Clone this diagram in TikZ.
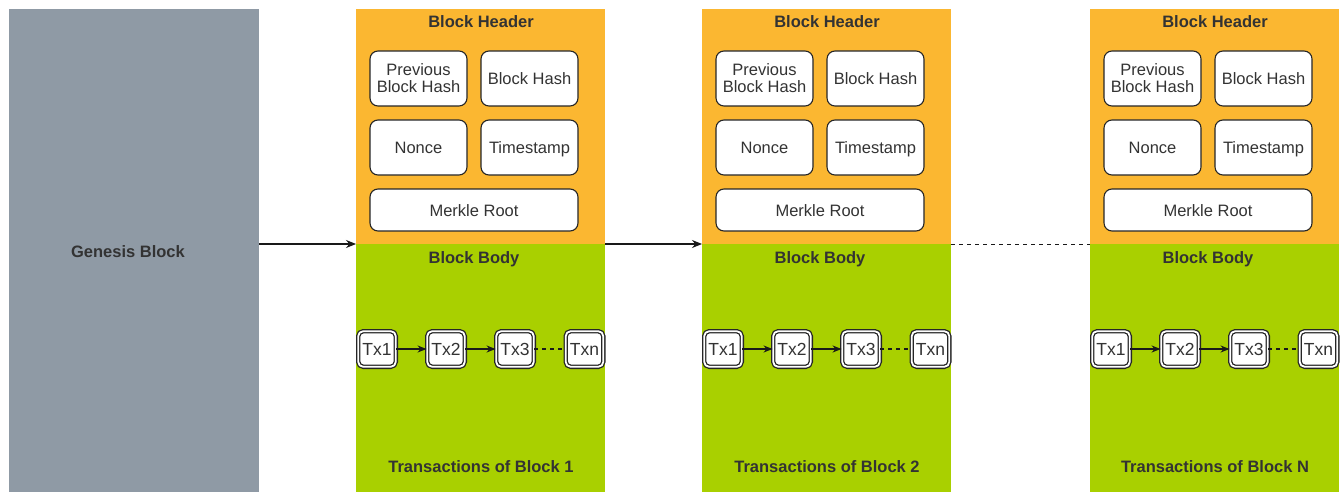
\documentclass[tikz,border=0pt]{standalone}
\usepackage{fontspec}
\setmainfont{Liberation Sans}
\usetikzlibrary{arrows.meta}
\definecolor{gensis}{HTML}{8F9AA5}
\definecolor{kopf}{HTML}{FBB731}
\definecolor{rumpf}{HTML}{A9D000}
\definecolor{schrift}{HTML}{333333}
\tikzset{
  blk/.style={inner sep=0pt,outer sep=0pt,anchor=north west},
  titel/.style={text=schrift,font=\fontsize{16.5}{19}\selectfont\bfseries,inner sep=0pt},
  feld/.style={draw=black!85,fill=white,rounded corners=8pt,line width=1.1pt,text=schrift,
    font=\fontsize{16.5}{19}\selectfont,align=center,inner sep=0pt},
  einzeln/.style={feld,text height=12pt,text depth=0pt},
  txbox/.style={draw=black!85,double=white,double distance=1.8pt,fill=white,rounded corners=5pt,
    line width=1.3pt,minimum width=37.6pt,minimum height=35.6pt,text=schrift,
    font=\fontsize{17.5}{20}\selectfont,inner sep=0pt},
  pfeil/.style={-{Stealth[length=10pt,width=8pt]},black!90,line width=1.2pt},
  txpfeil/.style={-{Stealth[length=9pt,width=7pt]},black!90,line width=1.2pt},
  luecke/.style={black!90,line width=1.1pt,dash pattern=on 4pt off 4pt},
}
\begin{document}
\begin{tikzpicture}[x=1pt,y=-1pt]
  \useasboundingbox (0,0) rectangle (1341,492);
  \node[blk,fill=gensis,minimum width=250pt,minimum height=483pt] (gen) at (9,9) {};
  \node[titel] (gent) at (128,252) {Genesis Block};
  \foreach \dx/\n/\lab in {356/1/1,702/2/2,1090/3/N}{
    \node[blk,fill=kopf,minimum width=249pt,minimum height=235pt] (h\n) at (\dx,9) {};
    \node[blk,fill=rumpf,minimum width=249pt,minimum height=250pt] (b\n) at (\dx,244) {};
    \node[titel] (ht\n) at (\dx+125,22) {Block Header};
    \node[feld,minimum width=97pt,minimum height=55pt] (p\n) at (\dx+62.5,78.5) {Previous\\[-2pt]Block Hash};
    \node[einzeln,minimum width=97pt,minimum height=55pt] (bh\n) at (\dx+173.5,78.5) {Block Hash};
    \node[einzeln,minimum width=97pt,minimum height=55pt] (no\n) at (\dx+62.5,147.5) {Nonce};
    \node[einzeln,minimum width=97pt,minimum height=55pt] (ts\n) at (\dx+173.5,147.5) {Timestamp};
    \node[einzeln,minimum width=208pt,minimum height=42pt] (mr\n) at (\dx+118,210) {Merkle Root};
    \node[titel] (bt\n) at (\dx+118,259) {Block Body};
    \node[txbox] (ta\n) at (\dx+21,349) {Tx1};
    \node[txbox] (tb\n) at (\dx+90,349) {Tx2};
    \node[txbox] (tc\n) at (\dx+159,349) {Tx3};
    \node[txbox] (tn\n) at (\dx+228.5,349) {Txn};
    \draw[txpfeil] (ta\n) -- (tb\n);
    \draw[txpfeil] (tb\n) -- (tc\n);
    \draw[luecke] (tc\n) -- (tn\n);
    \node[titel] (tr\n) at (\dx+125,467) {Transactions of Block \lab};
  }
  % chain
  \draw[pfeil] (gen.east |- h1.south west) -- (h1.south west);
  \draw[pfeil] (h1.south east) -- (h2.south west);
  \draw[luecke,line width=0.9pt] (h2.south east) -- (h3.south west);
\end{tikzpicture}
\end{document}
